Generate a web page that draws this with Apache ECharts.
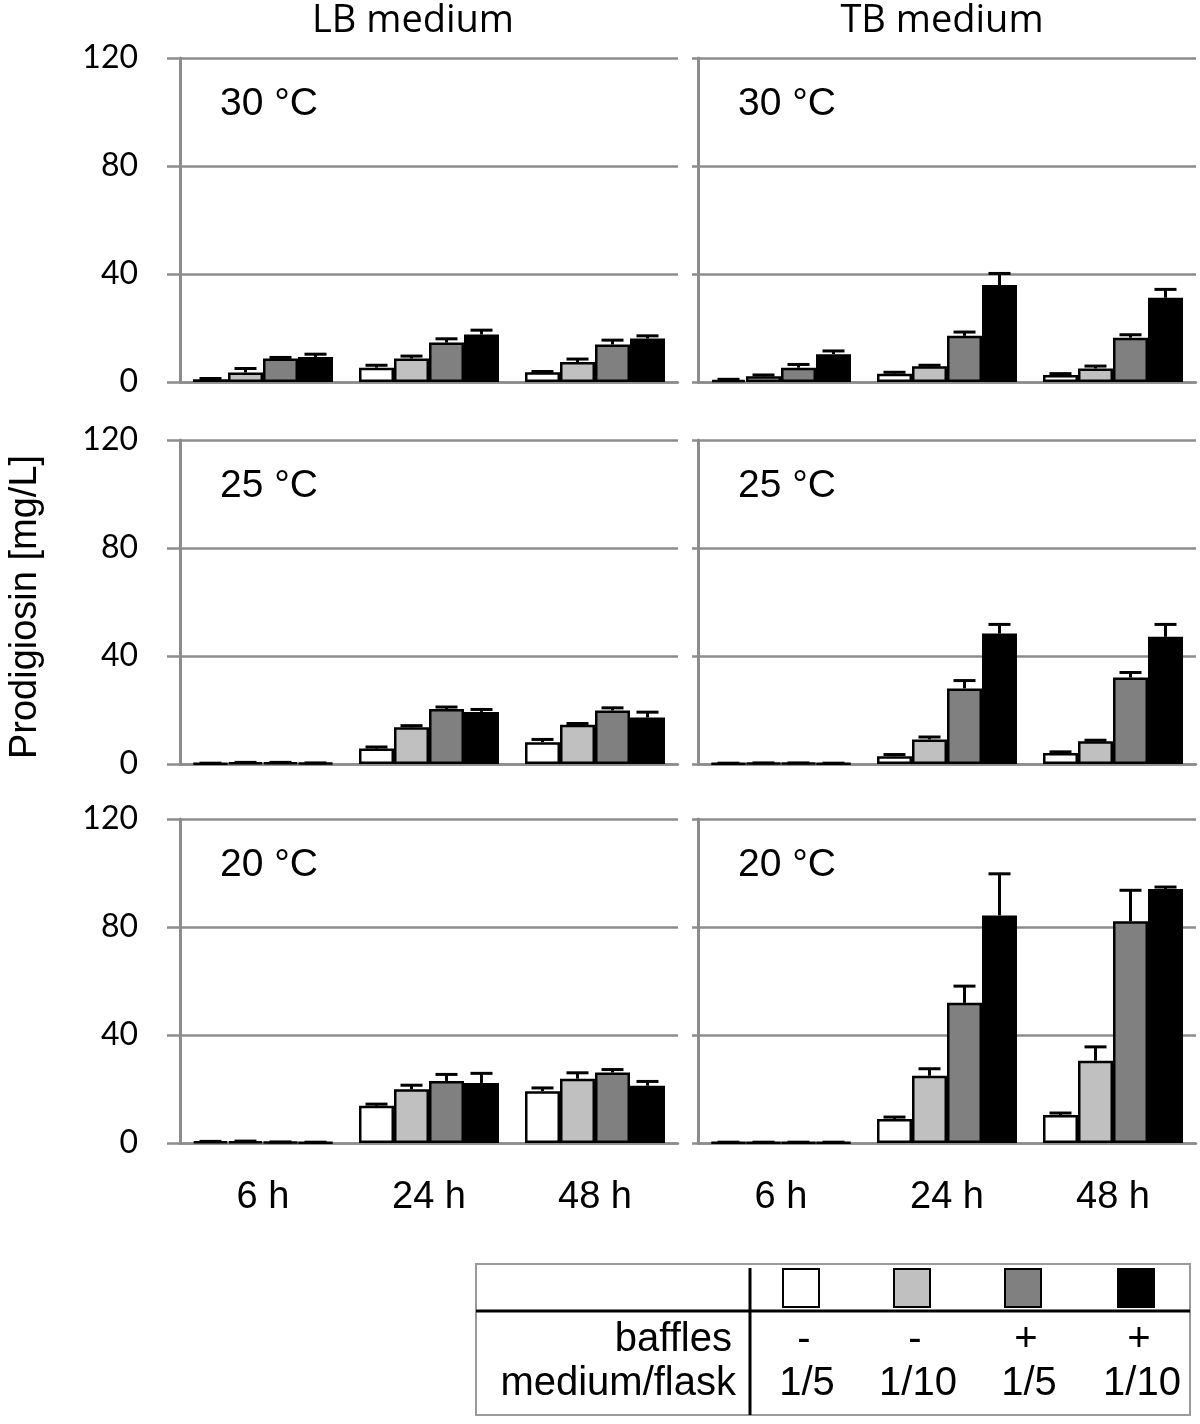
<!DOCTYPE html>
<html>
<head>
<meta charset="utf-8">
<script src="https://cdn.jsdelivr.net/npm/echarts@6/dist/echarts.min.js"></script>
<style>
  html, body { margin: 0; padding: 0; background: #fff; }
  #chart { width: 1200px; height: 1424px; }
</style>
</head>
<body>
<div id="chart"></div>
<script>
// categories
var hours = ['6 h', '24 h', '48 h'];
var temps = ['30 °C', '25 °C', '20 °C'];
var media = ['LB medium', 'TB medium'];
var yTicks = [0, 40, 80, 120];

// legend table
var baffles = ['-', '-', '+', '+'];
var ratio = ['1/5', '1/10', '1/5', '1/10'];
var colors = ['#ffffff', '#c0c0c0', '#808080', '#000000'];

// values: one row per condition, one entry per time point
var lb30 = [[1.0, 5.3, 3.6], [3.5, 8.7, 7.4], [8.7, 14.6, 13.9], [9.3, 17.6, 16.1]];
var lb30Err = [[0.3, 0.9, 0.3], [1.5, 0.9, 1.1], [0.4, 1.4, 1.6], [1.0, 1.6, 1.0]];
var tb30 = [[0.8, 3.1, 2.6], [2.1, 5.8, 5.0], [5.3, 17.1, 16.4], [10.3, 35.9, 31.2]];
var tb30Err = [[0.2, 0.5, 0.5], [0.5, 0.4, 0.9], [1.2, 1.4, 1.1], [1.2, 4.3, 3.1]];
var lb25 = [[0.2, 5.7, 8.1], [0.5, 13.6, 14.5], [0.5, 20.4, 19.8], [0.3, 19.3, 17.2]];
var lb25Err = [[0.1, 0.6, 1.0], [0.1, 0.6, 0.5], [0.1, 0.7, 1.0], [0.1, 0.9, 2.0]];
var tb25 = [[0.2, 2.9, 4.1], [0.3, 9.1, 8.4], [0.3, 28.0, 32.0], [0.2, 48.3, 47.1]];
var tb25Err = [[0.1, 0.6, 0.4], [0.1, 0.9, 0.4], [0.1, 2.9, 1.9], [0.1, 3.4, 4.6]];
var lb20 = [[0.5, 13.8, 19.2], [0.6, 19.9, 23.8], [0.3, 23.0, 26.1], [0.2, 22.2, 21.2]];
var lb20Err = [[0.1, 0.6, 1.2], [0.1, 1.5, 2.2], [0.1, 2.4, 1.1], [0.1, 3.6, 1.6]];
var tb20 = [[0.2, 8.9, 10.4], [0.2, 24.9, 30.5], [0.2, 51.9, 82.1], [0.2, 84.3, 94.1]];
var tb20Err = [[0.1, 0.7, 0.7], [0.1, 2.6, 5.1], [0.1, 6.2, 11.5], [0.1, 15.4, 0.7]];

// panels in reading order: row = temperature, col = medium
var panels = [
  { row: 0, col: 0, val: lb30, err: lb30Err },
  { row: 0, col: 1, val: tb30, err: tb30Err },
  { row: 1, col: 0, val: lb25, err: lb25Err },
  { row: 1, col: 1, val: tb25, err: tb25Err },
  { row: 2, col: 0, val: lb20, err: lb20Err },
  { row: 2, col: 1, val: tb20, err: tb20Err }
];

var TICK_FONT = 'Lato';
var ARIAL = '"Liberation Sans", Arial, sans-serif';
var GRAY = '#8c8c8c';
var BAR_W = 35;
var colLeft = [180, 698];
var rowTop = [58, 440, 819];
var GRID_W = 498, GRID_H = 324;

var chart = echarts.init(document.getElementById('chart'), null, { renderer: 'canvas' });

var grids = [], xAxes = [], yAxes = [], series = [], graphics = [];

panels.forEach(function (p, i) {
  grids.push({ left: colLeft[p.col], top: rowTop[p.row], width: GRID_W, height: GRID_H });
  xAxes.push({
    type: 'category', gridIndex: i, data: hours,
    axisLine: { lineStyle: { color: GRAY, width: 2.5 } },
    axisTick: { show: false },
    axisLabel: {
      show: p.row === 2, color: '#000', fontFamily: ARIAL, fontSize: 38, margin: 36
    }
  });
  yAxes.push({
    type: 'value', gridIndex: i, min: 0, max: 120, interval: 40,
    axisLine: { show: true, lineStyle: { color: GRAY, width: 3 } },
    axisTick: { show: true, length: p.col === 0 ? 13 : 6, lineStyle: { color: GRAY, width: 2.5 } },
    splitLine: { lineStyle: { color: GRAY, width: 2.5 } },
    axisLabel: {
      show: p.col === 0, color: '#000', fontFamily: TICK_FONT, fontSize: 32, margin: 42,
      formatter: function (v) { return yTicks.indexOf(v) >= 0 ? String(v) : ''; }
    }
  });
  p.val.forEach(function (vals, c) {
    series.push({
      type: 'bar', xAxisIndex: i, yAxisIndex: i, data: vals,
      barWidth: BAR_W, barGap: '0%',
      itemStyle: { color: colors[c], borderColor: '#000', borderWidth: 2.5 },
      silent: true, animation: false
    });
  });
  // error bars (upper only)
  var errData = [];
  p.val.forEach(function (vals, c) {
    vals.forEach(function (v, h) { errData.push([h, v, p.err[c][h], c]); });
  });
  series.push({
    type: 'custom', xAxisIndex: i, yAxisIndex: i, data: errData, z: 5,
    silent: true, animation: false,
    renderItem: function (params, api) {
      var h = api.value(0), v = api.value(1), e = api.value(2), c = api.value(3);
      var top = api.coord([h, v]);
      var hi = api.coord([h, v + e]);
      var x = top[0] + (c - 1.5) * BAR_W;
      var style = { stroke: '#000', lineWidth: 3 };
      return {
        type: 'group',
        children: [
          { type: 'line', shape: { x1: x, y1: top[1], x2: x, y2: hi[1] }, style: style },
          { type: 'line', shape: { x1: x - 11, y1: hi[1], x2: x + 11, y2: hi[1] }, style: style }
        ]
      };
    },
    encode: { x: 0, y: 1 }
  });
  // temperature label inside panel
  graphics.push({
    type: 'text', left: colLeft[p.col] + 40, top: rowTop[p.row] + 27,
    style: { text: temps[p.row], font: '39px ' + ARIAL, fill: '#000' }
  });
});

// column titles
var titleX = [413, 942];
media.forEach(function (m, k) {
  graphics.push({
    type: 'text', x: titleX[k], y: 21,
    style: { text: m, font: '38px "Open Sans"', fill: '#000', textAlign: 'center', textVerticalAlign: 'middle' }
  });
});

// y axis name
graphics.push({
  type: 'text', x: 26, y: 607, rotation: Math.PI / 2,
  style: { text: 'Prodigiosin [mg/L]', font: '38px ' + ARIAL, fill: '#000', textAlign: 'center', textVerticalAlign: 'middle' }
});

// legend table
var LF = '40px ' + ARIAL;
graphics.push({ type: 'rect', shape: { x: 476, y: 1264, width: 714, height: 151 }, style: { fill: 'none', stroke: '#9a9a9a', lineWidth: 2 } });
graphics.push({ type: 'line', shape: { x1: 476, y1: 1311, x2: 1190, y2: 1311 }, style: { stroke: '#000', lineWidth: 3 } });
graphics.push({ type: 'line', shape: { x1: 750, y1: 1268, x2: 750, y2: 1415 }, style: { stroke: '#000', lineWidth: 3 } });
graphics.push({ type: 'text', x: 732, y: 1340, style: { text: 'baffles', font: LF, fill: '#000', textAlign: 'right', textVerticalAlign: 'middle' } });
graphics.push({ type: 'text', x: 736, y: 1384, style: { text: 'medium/flask', font: LF, fill: '#000', textAlign: 'right', textVerticalAlign: 'middle' } });
var legX = [801, 912, 1023, 1136];
colors.forEach(function (col, c) {
  graphics.push({ type: 'rect', shape: { x: legX[c] - 18, y: 1269, width: 36, height: 38 }, style: { fill: col, stroke: '#000', lineWidth: 2 } });
  graphics.push({ type: 'text', x: legX[c] + 3, y: 1340, style: { text: baffles[c], font: LF, fill: '#000', textAlign: 'center', textVerticalAlign: 'middle' } });
  graphics.push({ type: 'text', x: legX[c] + 6, y: 1384, style: { text: ratio[c], font: LF, fill: '#000', textAlign: 'center', textVerticalAlign: 'middle' } });
});

chart.setOption({
  backgroundColor: '#ffffff',
  animation: false,
  grid: grids,
  xAxis: xAxes,
  yAxis: yAxes,
  series: series,
  graphic: graphics
});
</script>
</body>
</html>
